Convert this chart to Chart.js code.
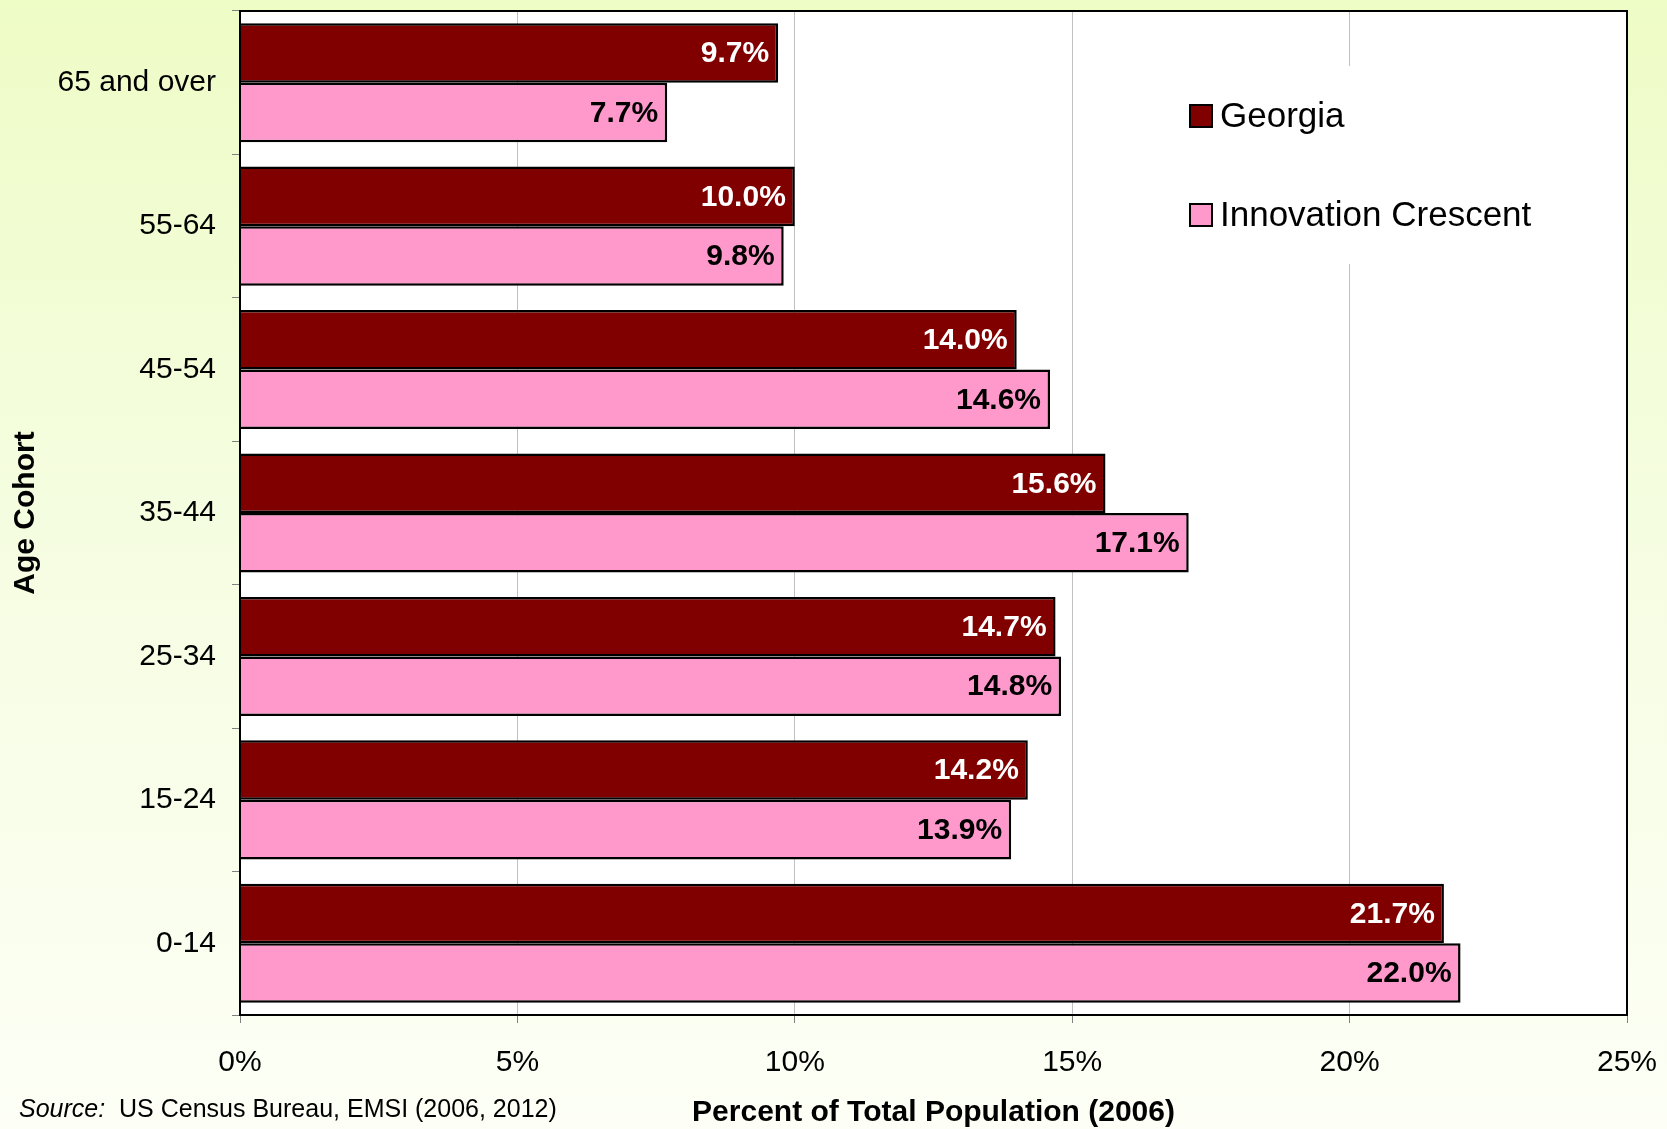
<!DOCTYPE html>
<html>
<head>
<meta charset="utf-8">
<title>Age Cohort - Percent of Total Population (2006)</title>
<script src="https://cdn.jsdelivr.net/npm/chart.js@4.4.1/dist/chart.umd.min.js"></script>
<style>
    html, body { margin: 0; padding: 0; }
    body {
        width: 1667px;
        height: 1129px;
        position: relative;
        overflow: hidden;
        font-family: "Liberation Sans", Arial, sans-serif;
        background: linear-gradient(to bottom, #eefcc6 0%, #f5fde0 45%, #fdfff6 100%);
    }
    #wrap { position: absolute; left: 0; top: 0; width: 1667px; height: 1129px; }
    #source {
        position: absolute;
        left: 19px;
        top: 1094px;
        font-size: 25px;
        color: #000;
        white-space: pre;
    }
</style>
</head>
<body>
<div id="wrap"><canvas id="age-chart" width="1667" height="1129"></canvas></div>
<div id="source"><i>Source:</i>  US Census Bureau, EMSI (2006, 2012)</div>
<script>
// Chart data (top to bottom)
const cohorts = ['65 and over', '55-64', '45-54', '35-44', '25-34', '15-24', '0-14'];
const georgia = [9.7, 10.0, 14.0, 15.6, 14.7, 14.2, 21.7];
const crescent = [7.7, 9.8, 14.6, 17.1, 14.8, 13.9, 22.0];
const xTicks = [0, 5, 10, 15, 20, 25];

const FONT = '"Liberation Sans", Arial, sans-serif';
const labelColors = ['#ffffff', '#000000'];

// White plot area + black frame
const plotFrame = {
    id: 'plotFrame',
    beforeDraw(chart) {
        const { ctx, chartArea: a } = chart;
        ctx.save();
        ctx.fillStyle = '#ffffff';
        ctx.fillRect(a.left, a.top, a.right - a.left, a.bottom - a.top);
        ctx.restore();
    },
    afterDraw(chart) {
        const { ctx, chartArea: a } = chart;
        ctx.save();
        ctx.strokeStyle = '#000000';
        ctx.lineWidth = 2;
        ctx.strokeRect(a.left, a.top, a.right - a.left, a.bottom - a.top);
        ctx.restore();
    }
};

// Value labels inside the bar ends
const barLabels = {
    id: 'barLabels',
    afterDatasetsDraw(chart) {
        const ctx = chart.ctx;
        ctx.save();
        ctx.font = 'bold 30px ' + FONT;
        ctx.textAlign = 'right';
        ctx.textBaseline = 'middle';
        chart.data.datasets.forEach((ds, i) => {
            ctx.fillStyle = labelColors[i];
            chart.getDatasetMeta(i).data.forEach((bar, j) => {
                ctx.fillText(ds.data[j].toFixed(1) + '%', bar.x - 9, bar.y + 1);
            });
        });
        ctx.restore();
    }
};

// Legend drawn inside the plot, top right
const insideLegend = {
    id: 'insideLegend',
    afterDraw(chart) {
        const ctx = chart.ctx;
        const x = 1190, rows = [116, 215], box = 22;
        ctx.save();
        ctx.fillStyle = '#ffffff';
        ctx.fillRect(1170, 66, 400, 198);
        ctx.font = '35px ' + FONT;
        ctx.textBaseline = 'middle';
        ctx.textAlign = 'left';
        chart.data.datasets.forEach((ds, i) => {
            const y = rows[i];
            ctx.fillStyle = ds.backgroundColor;
            ctx.fillRect(x, y - box / 2, box, box);
            ctx.strokeStyle = '#000000';
            ctx.lineWidth = 2;
            ctx.strokeRect(x, y - box / 2, box, box);
            ctx.fillStyle = '#000000';
            ctx.fillText(ds.label, x + box + 8, y + 1);
        });
        ctx.restore();
    }
};

new Chart(document.getElementById('age-chart'), {
    type: 'bar',
    data: {
        labels: cohorts,
        datasets: [
            {
                label: 'Georgia',
                data: georgia,
                backgroundColor: '#800000',
                borderColor: '#000000',
                borderWidth: 2.5
            },
            {
                label: 'Innovation Crescent',
                data: crescent,
                backgroundColor: '#ff99cc',
                borderColor: '#000000',
                borderWidth: 2.5
            }
        ]
    },
    options: {
        indexAxis: 'y',
        responsive: false,
        animation: false,
        layout: { padding: { top: 11, right: 40, bottom: 0, left: 0 } },
        datasets: {
            bar: { categoryPercentage: 0.83, barPercentage: 1.0 }
        },
        plugins: {
            legend: { display: false },
            tooltip: { enabled: false }
        },
        scales: {
            x: {
                type: 'linear',
                min: xTicks[0],
                max: xTicks[xTicks.length - 1],
                afterFit(scale) {
                    scale.height = 114;
                    scale.paddingLeft = 0;
                    scale.paddingRight = 0;
                },
                afterBuildTicks(scale) { scale.ticks = xTicks.map(v => ({ value: v })); },
                ticks: {
                    callback: v => v + '%',
                    color: '#000000',
                    font: { family: FONT, size: 30 },
                    padding: 22
                },
                grid: {
                    color: '#c0c0c0',
                    lineWidth: 1,
                    tickLength: 8,
                    tickColor: '#808080'
                },
                border: { display: false },
                title: {
                    display: true,
                    text: 'Percent of Total Population (2006)',
                    color: '#000000',
                    font: { family: FONT, size: 30, weight: 'bold', lineHeight: 1.0 },
                    padding: { top: 0, bottom: 1 }
                }
            },
            y: {
                afterFit(scale) {
                    scale.width = 240;
                    scale.paddingTop = 0;
                    scale.paddingBottom = 0;
                },
                ticks: {
                    color: '#000000',
                    font: { family: FONT, size: 30 },
                    padding: 16
                },
                grid: {
                    drawOnChartArea: false,
                    offset: true,
                    tickLength: 8,
                    tickColor: '#808080'
                },
                border: { display: false },
                title: {
                    display: true,
                    text: 'Age Cohort',
                    color: '#000000',
                    font: { family: FONT, size: 30, weight: 'bold' },
                    padding: { top: 8, bottom: 0 }
                }
            }
        }
    },
    plugins: [plotFrame, barLabels, insideLegend]
});
</script>
</body>
</html>
